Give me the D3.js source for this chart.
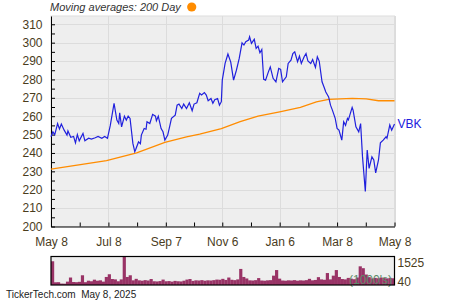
<!DOCTYPE html>
<html>
<head>
<meta charset="utf-8">
<script src="https://cdn.jsdelivr.net/npm/d3@7"></script>
<style>
body { margin: 0; background: #fff; }
svg { display: block; font-family: "Liberation Sans", Arial, sans-serif; }
</style>
</head>
<body>
<svg id="chart" width="450" height="300"></svg>
<script>
const ticker = "VBK";

const priceDates = [
  "2024-05-08","2024-05-10","2024-05-12","2024-05-15","2024-05-17","2024-05-19","2024-05-22","2024-05-25","2024-05-26","2024-05-29",
  "2024-06-01","2024-06-03","2024-06-05","2024-06-07","2024-06-11","2024-06-13","2024-06-17","2024-06-20","2024-06-24","2024-06-27",
  "2024-07-01","2024-07-04","2024-07-07","2024-07-10","2024-07-14","2024-07-17","2024-07-19","2024-07-20","2024-07-22","2024-07-25","2024-07-27","2024-07-29","2024-07-31",
  "2024-08-03","2024-08-05","2024-08-06","2024-08-09","2024-08-11","2024-08-12","2024-08-15","2024-08-17","2024-08-18","2024-08-21","2024-08-24","2024-08-27","2024-08-28","2024-08-30",
  "2024-09-02","2024-09-04","2024-09-06","2024-09-09","2024-09-11","2024-09-13","2024-09-17","2024-09-19","2024-09-21","2024-09-24","2024-09-26","2024-09-29",
  "2024-10-02","2024-10-05","2024-10-07","2024-10-10","2024-10-13","2024-10-15","2024-10-18","2024-10-20","2024-10-22","2024-10-25","2024-10-27","2024-10-29",
  "2024-11-01","2024-11-03","2024-11-05","2024-11-06","2024-11-09","2024-11-12","2024-11-15","2024-11-18","2024-11-21","2024-11-24","2024-11-27","2024-11-29",
  "2024-12-01","2024-12-04","2024-12-05","2024-12-07","2024-12-10","2024-12-12","2024-12-14","2024-12-16","2024-12-18","2024-12-20","2024-12-22","2024-12-25","2024-12-27","2024-12-30",
  "2025-01-02","2025-01-05","2025-01-07","2025-01-09","2025-01-13","2025-01-15","2025-01-18","2025-01-20","2025-01-22","2025-01-25","2025-01-27","2025-01-29",
  "2025-02-01","2025-02-03","2025-02-05","2025-02-08","2025-02-10","2025-02-13","2025-02-15","2025-02-17","2025-02-20","2025-02-22","2025-02-24","2025-02-27",
  "2025-03-01","2025-03-03","2025-03-06","2025-03-08","2025-03-10","2025-03-13","2025-03-15","2025-03-17","2025-03-19","2025-03-20","2025-03-24","2025-03-25","2025-03-28","2025-03-31",
  "2025-04-02","2025-04-04","2025-04-07","2025-04-09","2025-04-11","2025-04-14","2025-04-16","2025-04-18","2025-04-21","2025-04-23","2025-04-26","2025-04-29","2025-04-30",
  "2025-05-03","2025-05-05","2025-05-08"
];
const priceValues = [
  248.8,251.5,250,256,253,255.7,252.4,249.7,252,248.5,
  249,245.5,250,246.6,250.6,246.6,248,247.5,248.3,249,
  248,249,248,255,267,257.9,256,261.8,254.2,260,257.9,260,258.8,
  245.2,240.7,241.9,246,245,249.7,253.3,252.9,257,256,261,260,257.5,260,
  253.3,251.5,247,249.7,254.2,258.8,260.6,266,266.6,264.2,266.6,264.2,
  267.3,263,266.6,267.3,272.4,271.5,272.8,271.5,268.4,269.6,267,269,
  269.6,266,267.9,279.6,288.7,293.8,289.4,279.6,285,291.4,299.9,298.7,
  300.5,301.4,303.2,299.6,301.8,296.9,298.1,294.5,296.3,280,279.6,284.1,286.8,280.6,
  278.7,286,285.5,278.7,281.4,288.7,290.5,294.1,295,289.6,292.7,288.7,
  292.3,294.1,290,288.7,290.8,286.5,292.3,290,278.7,276,273.2,270.5,
  266,263.3,258.8,253.3,252.4,247,257,255,258.8,258,264.8,263.3,254.2,251.5,
  256,238,219,241.6,231.6,237.9,236.2,229.2,236.2,245.5,247,248.8,248,
  255.2,252.4,255.8
];

// 200 day moving average
const maDates = [
  "2024-05-08","2024-07-06","2024-08-07","2024-09-06","2024-09-29","2024-10-13","2024-11-05","2024-11-25",
  "2024-12-14","2025-01-06","2025-01-28","2025-02-14","2025-02-27","2025-03-24","2025-04-08","2025-04-21","2025-05-08"
];
const maValues = [231.2,235.8,240.1,245.7,248.8,250.3,253.3,257,260,262.4,264.8,267.8,269.1,269.7,269.4,268.4,268.4];

// volume, thousands
const volumeValues = [
  1270,145,150,75,70,180,400,160,150,170,520,150,230,200,285,230,250,180,430,575,
  320,300,200,300,1525,430,520,250,330,250,230,260,240,320,200,190,210,290,200,210,
  180,220,200,190,230,290,320,220,250,240,260,230,250,240,260,290,280,330,270,400,
  280,260,300,860,430,350,250,240,260,370,240,230,250,260,500,800,340,240,230,250,
  240,260,230,250,240,260,330,250,270,420,300,280,640,300,500,800,430,320,300,380,
  340,310,400,1000,900,560,420,350,380,360,400,370,350,380,360
];

const tickDates = ["2024-05-08","2024-07-08","2024-09-07","2024-11-06","2025-01-06","2025-03-08","2025-05-08"];
const tickLabels = ["May 8","Jul 8","Sep 7","Nov 6","Jan 6","Mar 8","May 8"];
const yTicks = [200,210,220,230,240,250,260,270,280,290,300,310];
const volumeLabels = ["1525","40"];

const parse = d3.timeParse("%Y-%m-%d");
const price = priceDates.map((d, i) => ({date: parse(d), value: priceValues[i]}));
const ma = maDates.map((d, i) => ({date: parse(d), value: maValues[i]}));
const ticks = tickDates.map(parse);
const minorTicks = d3.range(ticks.length - 1).map(i => new Date((+ticks[i] + +ticks[i + 1]) / 2));

const plotLeft = 51, plotRight = 394.5, plotTop = 16, plotBottom = 226.5;
const volTop = 256.5, volBottom = 285;
const labelColor = "#4a3c1c";

const svg = d3.select("#chart");

const x = d3.scaleTime().domain([ticks[0], ticks[ticks.length - 1]]).range([plotLeft, plotRight]);
const y = d3.scaleLinear().domain([200, 314.5]).range([plotBottom, plotTop]);

// plot background
svg.append("rect")
    .attr("x", plotLeft).attr("y", plotTop)
    .attr("width", plotRight - plotLeft).attr("height", plotBottom - plotTop)
    .attr("fill", "#eeeeee").attr("stroke", "#dddddd");

// grid
svg.append("g").selectAll("line")
    .data(yTicks.slice(1))
    .join("line")
    .attr("x1", plotLeft).attr("x2", plotRight)
    .attr("y1", d => Math.round(y(d)) + 0.5).attr("y2", d => Math.round(y(d)) + 0.5)
    .attr("stroke", "#dcdcdc");
svg.append("g").selectAll("line")
    .data(ticks.slice(1))
    .join("line")
    .attr("x1", d => Math.round(x(d)) + 0.5).attr("x2", d => Math.round(x(d)) + 0.5)
    .attr("y1", plotTop).attr("y2", plotBottom)
    .attr("stroke", "#dcdcdc");

// axes
const yAll = d3.range(200, 311, 5);
const yAxis = svg.append("g")
    .attr("transform", "translate(" + plotLeft + ",0)")
    .call(d3.axisLeft(y).tickValues(yAll).tickSize(-4).tickSizeOuter(0).tickPadding(8.5)
        .tickFormat(d => d % 10 === 0 ? d : ""));

const xAxis = svg.append("g")
    .attr("transform", "translate(0," + plotBottom + ")")
    .call(d3.axisBottom(x).tickValues(ticks.concat(minorTicks)).tickSize(-4).tickSizeOuter(0).tickPadding(10.5)
        .tickFormat(d => {
            const i = ticks.findIndex(t => +t === +d);
            return i >= 0 ? tickLabels[i] : "";
        }));

[yAxis, xAxis].forEach(a => {
    a.selectAll("path, line").attr("stroke", "#000");
    a.selectAll("text").attr("fill", labelColor).style("font-size", "12px");
});

// lines
const line = d3.line().x(d => x(d.date)).y(d => y(d.value));
svg.append("path")
    .datum(ma)
    .attr("d", line)
    .attr("fill", "none")
    .attr("stroke", "#ff8c00")
    .attr("stroke-width", 1.3);
svg.append("path")
    .datum(price)
    .attr("d", line)
    .attr("fill", "none")
    .attr("stroke", "#2020dd")
    .attr("stroke-width", 1.2);

svg.append("text")
    .attr("x", plotRight + 3)
    .attr("y", y(priceValues[priceValues.length - 1]))
    .attr("dy", "0.3em")
    .attr("fill", "#2020dd")
    .style("font-size", "12px")
    .text(ticker);

// legend
svg.append("text")
    .attr("x", 50).attr("y", 11)
    .attr("fill", "#333")
    .style("font-size", "11px")
    .style("font-style", "italic")
    .text("Moving averages: 200 Day");
svg.append("circle")
    .attr("cx", 191.7).attr("cy", 7).attr("r", 4.6)
    .attr("fill", "#ff8c00");

// volume panel
const xv = d3.scaleBand().domain(d3.range(volumeValues.length)).range([plotLeft, plotRight]);
const yv = d3.scaleLinear().domain([0, 1525]).range([volBottom, volTop]);

svg.append("rect")
    .attr("x", plotLeft).attr("y", volTop)
    .attr("width", plotRight - plotLeft).attr("height", volBottom - volTop)
    .attr("fill", "#eeeeee");

svg.append("g").selectAll("rect")
    .data(volumeValues)
    .join("rect")
    .attr("x", (d, i) => xv(i))
    .attr("width", xv.bandwidth() + 0.2)
    .attr("y", d => yv(d))
    .attr("height", d => volBottom - yv(d))
    .attr("fill", "#993366");

svg.append("text")
    .attr("x", 392).attr("y", 284)
    .attr("text-anchor", "end")
    .attr("fill", "#5b8a68")
    .style("font-size", "12px")
    .text("(1000's)");

svg.append("rect")
    .attr("x", plotLeft).attr("y", volTop)
    .attr("width", plotRight - plotLeft).attr("height", volBottom - volTop)
    .attr("fill", "none").attr("stroke", "#000").attr("stroke-width", 1.2);

svg.append("text")
    .attr("x", 397.5).attr("y", 267.3)
    .attr("fill", labelColor)
    .style("font-size", "12px")
    .text(volumeLabels[0]);
svg.append("text")
    .attr("x", 397.5).attr("y", 285.7)
    .attr("fill", labelColor)
    .style("font-size", "12px")
    .text(volumeLabels[1]);

// footer
svg.append("text")
    .attr("x", 6).attr("y", 298)
    .attr("fill", "#222")
    .style("font-size", "10px")
    .attr("xml:space", "preserve")
    .text("TickerTech.com  May 8, 2025");
</script>
</body>
</html>
